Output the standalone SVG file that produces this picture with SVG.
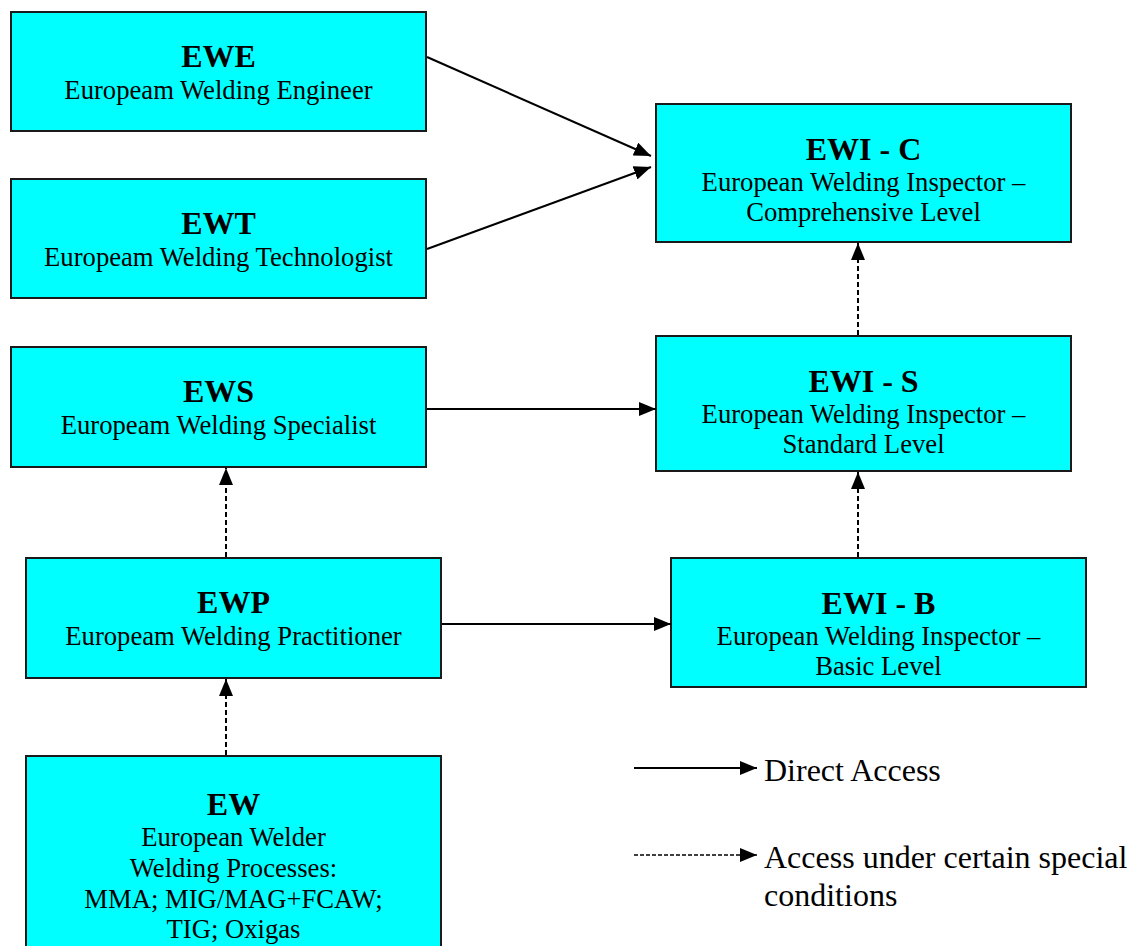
<svg xmlns="http://www.w3.org/2000/svg" width="1133" height="946" viewBox="0 0 1133 946">
<style>
.box{fill:#00FFFF;stroke:#1a1a1a;stroke-width:2}
.t{font-family:"Liberation Serif","Times New Roman",serif;font-weight:bold;font-size:32px;text-anchor:middle;fill:#000}
.s{font-family:"Liberation Serif","Times New Roman",serif;font-size:26.67px;text-anchor:middle;fill:#000}
.lg{font-family:"Liberation Serif","Times New Roman",serif;font-size:32px;fill:#000}
.c{stroke:#000;stroke-width:2;fill:none}
.d{stroke:#000;stroke-width:2;fill:none;stroke-dasharray:5,3}
.dl{stroke:#000;stroke-width:1.5;fill:none;stroke-dasharray:4,2}
</style>
<defs>
<marker id="ah" markerUnits="userSpaceOnUse" markerWidth="17" markerHeight="14" refX="17" refY="7" orient="auto">
<path d="M0,0 L17,7 L0,14 z" fill="#000"/>
</marker>
</defs>
<rect width="1133" height="946" fill="#fff"/>
<g id="EWE">
<rect class="box" x="11" y="12" width="415" height="119"/>
<text class="t" x="218.5" y="67">EWE</text>
<text class="s" x="218.5" y="99">Europeam Welding Engineer</text>
</g>
<g id="EWT">
<rect class="box" x="11" y="179" width="415" height="119"/>
<text class="t" x="218.5" y="234">EWT</text>
<text class="s" x="218.5" y="266">Europeam Welding Technologist</text>
</g>
<g id="EWS">
<rect class="box" x="11" y="347" width="415" height="120"/>
<text class="t" x="218.5" y="402">EWS</text>
<text class="s" x="218.5" y="434">Europeam Welding Specialist</text>
</g>
<g id="EWP">
<rect class="box" x="26" y="558" width="415" height="120"/>
<text class="t" x="233.5" y="613">EWP</text>
<text class="s" x="233.5" y="645">Europeam Welding Practitioner</text>
</g>
<g id="EW">
<rect class="box" x="26" y="756" width="415" height="200"/>
<text class="t" x="233.5" y="815">EW</text>
<text class="s" x="233.5" y="846">European Welder</text>
<text class="s" x="233.5" y="877">Welding Processes:</text>
<text class="s" x="233.5" y="908">MMA; MIG/MAG+FCAW;</text>
<text class="s" x="233.5" y="938">TIG; Oxigas</text>
</g>
<g id="EWI-C">
<rect class="box" x="656" y="104" width="415" height="138"/>
<text class="t" x="863.5" y="160">EWI - C</text>
<text class="s" x="863.5" y="191">European Welding Inspector –</text>
<text class="s" x="863.5" y="221">Comprehensive Level</text>
</g>
<g id="EWI-S">
<rect class="box" x="656" y="336" width="415" height="135"/>
<text class="t" x="863.5" y="392">EWI - S</text>
<text class="s" x="863.5" y="423">European Welding Inspector –</text>
<text class="s" x="863.5" y="453">Standard Level</text>
</g>
<g id="EWI-B">
<rect class="box" x="671" y="558" width="415" height="129"/>
<text class="t" x="878.5" y="614">EWI - B</text>
<text class="s" x="878.5" y="645">European Welding Inspector –</text>
<text class="s" x="878.5" y="675">Basic Level</text>
</g>
<g id="connectors">
<line class="c" x1="427" y1="57" x2="651" y2="156" marker-end="url(#ah)"/>
<line class="c" x1="427" y1="249" x2="651" y2="167" marker-end="url(#ah)"/>
<line class="c" x1="427" y1="409" x2="656" y2="409" marker-end="url(#ah)"/>
<line class="c" x1="442" y1="624" x2="671" y2="624" marker-end="url(#ah)"/>
<line class="d" x1="226" y1="755" x2="226" y2="679" marker-end="url(#ah)"/>
<line class="d" x1="226" y1="557" x2="226" y2="468" marker-end="url(#ah)"/>
<line class="d" x1="858" y1="557" x2="858" y2="472" marker-end="url(#ah)"/>
<line class="d" x1="858" y1="335" x2="858" y2="243" marker-end="url(#ah)"/>
</g>
<g id="legend">
<line class="c" x1="634" y1="768" x2="757" y2="768" marker-end="url(#ah)"/>
<text class="lg" x="764" y="781">Direct Access</text>
<line class="dl" x1="634" y1="855" x2="757" y2="855" marker-end="url(#ah)"/>
<text class="lg" x="764" y="868">Access under certain special</text>
<text class="lg" x="764" y="906">conditions</text>
</g>
</svg>
